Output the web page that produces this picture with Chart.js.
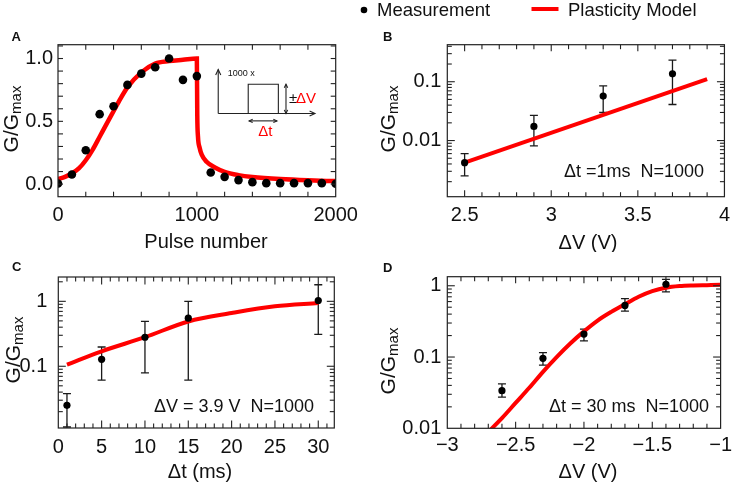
<!DOCTYPE html>
<html>
<head>
<meta charset="utf-8">
<script src="https://cdn.jsdelivr.net/npm/chart.js@4.4.1/dist/chart.umd.min.js"></script>
<style>
  html, body { margin:0; padding:0; background:#ffffff; }
  body { width:737px; height:488px; position:relative; overflow:hidden; }
  canvas { position:absolute; }
</style>
</head>
<body>
<canvas id="panelA" width="372" height="252" style="left:0px;top:0px"></canvas>
<canvas id="panelB" width="377" height="252" style="left:360px;top:0px"></canvas>
<canvas id="panelC" width="372" height="236" style="left:0px;top:252px"></canvas>
<canvas id="panelD" width="377" height="236" style="left:360px;top:252px"></canvas>
<script>
// ---------------- DATA ----------------
const legendLabels = ['Measurement', 'Plasticity Model'];

// Panel A
const pulseNumber = [0,100,200,300,400,500,600,700,800,900,1000,1100,1200,1300,1400,1500,1600,1700,1800,1900,2000];
const measuredA   = [0.005,0.077,0.27,0.557,0.62,0.79,0.88,0.93,1.0,0.83,0.86,0.093,0.058,0.032,0.016,0.008,0.008,0.008,0.008,0.008,0.003];
const modelPulseA = [0,50,100,150,200,250,300,350,400,450,500,600,700,800,900,1000,1003,1008,1020,1035,1070,1130,1200,1300,1400,1600,1800,2000];
const modelA      = [0.04,0.058,0.085,0.125,0.19,0.275,0.377,0.48,0.58,0.68,0.77,0.89,0.96,0.98,0.99,1.0,0.55,0.38,0.29,0.235,0.178,0.133,0.098,0.072,0.057,0.04,0.03,0.024];
const xTicksA = [0,1000,2000];      const xLabelsA = ['0','1000','2000'];
const yTicksA = [0,0.5,1.0];        const yLabelsA = ['0.0','0.5','1.0'];

// Panel B
const voltageB   = [2.5,2.9,3.3,3.7];
const measuredB  = [0.0042,0.0174,0.057,0.136];
const errLowB    = [0.0025,0.0081,0.030,0.041];
const errHighB   = [0.006,0.0267,0.085,0.232];
const modelVoltageB = [2.5,3.9];
const modelB        = [0.0042,0.111];
const xTicksB = [2.5,3,3.5,4];      const xLabelsB = ['2.5','3','3.5','4'];
const yTicksB = [0.01,0.1];         const yLabelsB = ['0.01','0.1'];

// Panel C
const widthC     = [1,5,10,15,30];
const measuredC  = [0.025,0.128,0.28,0.55,1.03];
const errLowC    = [0.0116,0.061,0.079,0.061,0.31];
const errHighC   = [0.038,0.198,0.49,1.0,1.8];
const modelWidthC = [1,5,10,15,20,25,30];
const modelC      = [0.106,0.17,0.28,0.49,0.66,0.84,0.94];
const xTicksC = [0,5,10,15,20,25,30]; const xLabelsC = ['0','5','10','15','20','25','30'];
const yTicksC = [0.1,1];              const yLabelsC = ['0.1','1'];

// Panel D
const voltageD   = [-2.6,-2.3,-2.0,-1.7,-1.4];
const measuredD  = [0.0337,0.096,0.21,0.53,1.05];
const errLowD    = [0.0273,0.077,0.169,0.44,0.82];
const errHighD   = [0.042,0.115,0.247,0.66,1.23];
const modelVoltageD = [-2.7,-2.6,-2.5,-2.4,-2.3,-2.2,-2.1,-2.0,-1.9,-1.8,-1.7,-1.6,-1.5,-1.4,-1.3,-1.2,-1.1,-1.0];
const modelD        = [0.0089,0.0139,0.0227,0.037,0.062,0.1,0.155,0.229,0.325,0.43,0.55,0.70,0.84,0.94,0.99,1.01,1.02,1.03];
const xTicksD = [-3,-2.5,-2,-1.5,-1]; const xLabelsD = ['\u22123','\u22122.5','\u22122','\u22121.5','\u22121'];
const yTicksD = [0.01,0.1,1];         const yLabelsD = ['0.01','0.1','1'];

// ---------------- RENDERING ----------------
const FONT = '"Liberation Sans", Arial, Helvetica, sans-serif';
Chart.defaults.font.family = FONT;
Chart.defaults.color = '#111';

function linMarks(min, max, step, majorEvery, lenMinor, lenMajor) {
  const out = [];
  const n0 = Math.ceil(min / step - 1e-9), n1 = Math.floor(max / step + 1e-9);
  for (let n = n0; n <= n1; n++) {
    const v = n * step;
    const major = Math.abs(v / majorEvery - Math.round(v / majorEvery)) < 1e-6;
    out.push({ v, len: major ? lenMajor : lenMinor });
  }
  return out;
}
function logMarks(min, max, lenMinor, lenMajor) {
  const out = [];
  for (let e = -4; e <= 1; e++) for (let m = 1; m <= 9; m++) {
    const v = m * Math.pow(10, e);
    if (v >= min * 0.999 && v <= max * 1.001) out.push({ v, len: m === 1 ? lenMajor : lenMinor });
  }
  return out;
}

const SPECS = {};

function line(ctx, x1, y1, x2, y2) { ctx.beginPath(); ctx.moveTo(x1, y1); ctx.lineTo(x2, y2); ctx.stroke(); }
function head(ctx, x, y, ang, size) {
  ctx.beginPath();
  ctx.moveTo(x + size * Math.cos(ang + 2.7), y + size * Math.sin(ang + 2.7));
  ctx.lineTo(x, y);
  ctx.lineTo(x + size * Math.cos(ang - 2.7), y + size * Math.sin(ang - 2.7));
  ctx.stroke();
}

const decoPlugin = {
  id: 'deco',
  beforeDatasetsDraw(chart) {
    const s = SPECS[chart.canvas.id]; if (!s) return;
    const ctx = chart.ctx, xs = chart.scales.x, ys = chart.scales.y;
    const ds = chart.data.datasets[0];
    if (!s.errLow) return;
    ctx.save();
    ctx.strokeStyle = '#1a1a1a'; ctx.lineWidth = 1.3;
    ds.data.forEach((p, i) => {
      const x = xs.getPixelForValue(p.x);
      const y1 = ys.getPixelForValue(s.errLow[i]), y2 = ys.getPixelForValue(s.errHigh[i]);
      ctx.beginPath();
      ctx.moveTo(x, y1); ctx.lineTo(x, y2);
      ctx.moveTo(x - 4, y1); ctx.lineTo(x + 4, y1);
      ctx.moveTo(x - 4, y2); ctx.lineTo(x + 4, y2);
      ctx.stroke();
    });
    ctx.restore();
  },
  afterDraw(chart) {
    const s = SPECS[chart.canvas.id]; if (!s) return;
    const ctx = chart.ctx, a = chart.chartArea, xs = chart.scales.x, ys = chart.scales.y;
    const ox = s.offX, oy = s.offY;
    ctx.save();
    // frame
    ctx.strokeStyle = '#222'; ctx.lineWidth = 1.2;
    ctx.strokeRect(a.left, a.top, a.right - a.left, a.bottom - a.top);
    // inward ticks on all sides
    ctx.lineWidth = 1.1;
    s.xMarks.forEach(m => {
      const px = xs.getPixelForValue(m.v);
      if (px < a.left + 0.5 || px > a.right - 0.5) return;
      line(ctx, px, a.bottom, px, a.bottom - m.len);
      line(ctx, px, a.top, px, a.top + m.len);
    });
    s.yMarks.forEach(m => {
      const py = ys.getPixelForValue(m.v);
      if (py < a.top + 0.5 || py > a.bottom - 0.5) return;
      line(ctx, a.left, py, a.left + m.len, py);
      line(ctx, a.right, py, a.right - m.len, py);
    });
    // x title
    ctx.fillStyle = '#111';
    ctx.font = '20px ' + FONT; ctx.textAlign = 'center'; ctx.textBaseline = 'alphabetic';
    ctx.fillText(s.xTitle, s.xTitlePos[0] - ox, s.xTitlePos[1] - oy);
    // y title with subscript
    ctx.save();
    ctx.translate(s.yTitlePos[0] - ox, s.yTitlePos[1] - oy);
    ctx.rotate(-Math.PI / 2);
    ctx.font = '21px ' + FONT; const w1 = ctx.measureText('G/G').width;
    ctx.font = '15px ' + FONT; const w2 = ctx.measureText('max').width;
    const st = -(w1 + w2) / 2;
    ctx.textAlign = 'left';
    ctx.font = '21px ' + FONT; ctx.fillText('G/G', st, 0);
    ctx.font = '15px ' + FONT; ctx.fillText('max', st + w1, 3);
    ctx.restore();
    // panel letter
    ctx.font = 'bold 13px ' + FONT; ctx.textAlign = 'left';
    ctx.fillText(s.letter, s.letterPos[0] - ox, s.letterPos[1] - oy);
    // note text
    if (s.note) {
      ctx.font = '18px ' + FONT; ctx.textAlign = 'center';
      ctx.fillText(s.note, s.notePos[0] - ox, s.notePos[1] - oy);
    }
    // legend
    if (s.legend) {
      ctx.fillStyle = '#000';
      ctx.beginPath(); ctx.arc(364 - ox, 10 - oy, 3.3, 0, Math.PI * 2); ctx.fill();
      ctx.fillStyle = '#111';
      ctx.font = '18.5px ' + FONT; ctx.textAlign = 'left';
      ctx.fillText(legendLabels[0], 377 - ox, 16 - oy);
      ctx.strokeStyle = '#ff0000'; ctx.lineWidth = 4;
      line(ctx, 531.5 - ox, 9 - oy, 558.5 - ox, 9 - oy);
      ctx.fillText(legendLabels[1], 568 - ox, 16 - oy);
    }
    // inset schematic (panel A), positioned in data units
    if (s.inset) {
      const X = v => xs.getPixelForValue(v), Y = v => ys.getPixelForValue(v);
      ctx.strokeStyle = '#222'; ctx.lineWidth = 1.1;
      const x0 = X(1154), yb = Y(0.5625);
      line(ctx, x0, yb, x0, Y(0.9125)); head(ctx, x0, Y(0.9125), -Math.PI / 2, 6);
      line(ctx, x0, yb, X(1851), yb); head(ctx, X(1851), yb, 0, 6);
      ctx.beginPath();
      ctx.moveTo(X(1370), yb); ctx.lineTo(X(1370), Y(0.7955)); ctx.lineTo(X(1587), Y(0.7955)); ctx.lineTo(X(1587), yb);
      ctx.stroke();
      // delta V arrow
      const xv = X(1642);
      line(ctx, xv, Y(0.7955), xv, yb);
      head(ctx, xv, Y(0.7955), -Math.PI / 2, 4); head(ctx, xv, yb, Math.PI / 2, 4);
      // delta t arrow
      const yt = Y(0.5036);
      line(ctx, X(1376), yt, X(1577), yt);
      head(ctx, X(1376), yt, Math.PI, 4); head(ctx, X(1577), yt, 0, 4);
      ctx.fillStyle = '#111'; ctx.font = '9px ' + FONT; ctx.textAlign = 'left';
      ctx.fillText('1000 x', X(1222), Y(0.859));
      ctx.font = '15px ' + FONT;
      ctx.fillText('\u00b1', X(1664), Y(0.645));
      ctx.fillStyle = '#ff0000';
      ctx.fillText('\u0394V', X(1714), Y(0.645));
      ctx.textAlign = 'center';
      ctx.fillText('\u0394t', X(1494), Y(0.382));
    }
    ctx.restore();
  }
};
Chart.register(decoPlugin);

function makeChart(id, s) {
  const cv = document.getElementById(id);
  s.offX = parseFloat(cv.style.left); s.offY = parseFloat(cv.style.top);
  SPECS[id] = s;
  const W = cv.width, H = cv.height, ar = s.area;
  const padTop = ar.top - s.offY, yW = ar.left - s.offX, padRight = s.offX + W - ar.right, xH = s.offY + H - ar.bottom;
  return new Chart(cv, {
    type: 'scatter',
    data: {
      datasets: [
        { label: legendLabels[0], data: s.px.map((x, i) => ({ x, y: s.py[i] })),
          pointRadius: s.dotR, pointBackgroundColor: '#000', pointBorderWidth: 0, order: 0 },
        { label: legendLabels[1], data: s.mx.map((x, i) => ({ x, y: s.my[i] })),
          showLine: true, pointRadius: 0, borderColor: '#ff0000', borderWidth: s.lw,
          cubicInterpolationMode: 'monotone', order: 1 }
      ]
    },
    options: {
      responsive: false, animation: false,
      layout: { padding: { top: padTop, right: padRight, left: 0, bottom: 0 } },
      plugins: { legend: { display: false }, tooltip: { enabled: false } },
      scales: {
        x: {
          type: 'linear', min: s.xMin, max: s.xMax,
          afterFit: sc => { sc.height = xH; },
          afterBuildTicks: sc => { sc.ticks = s.xTicks.map(v => ({ value: v })); },
          ticks: { callback: (v, i) => s.xLabels[i], padding: s.xPad, autoSkip: false, maxRotation: 0, minRotation: 0,
                   font: { size: 20 }, color: '#111' },
          grid: { display: false, drawTicks: false }, border: { display: false }
        },
        y: {
          type: s.yType, min: s.yMin, max: s.yMax,
          afterFit: sc => { sc.width = yW; },
          afterBuildTicks: sc => { sc.ticks = s.yTicks.map(v => ({ value: v })); },
          ticks: { callback: (v, i) => s.yLabels[i], padding: s.yPad, autoSkip: false,
                   font: { size: 20 }, color: '#111' },
          grid: { display: false, drawTicks: false }, border: { display: false }
        }
      }
    }
  });
}

makeChart('panelA', {
  area: { left: 58, top: 44.7, right: 335.7, bottom: 196.7 },
  px: pulseNumber, py: measuredA, mx: modelPulseA, my: modelA, dotR: 4.3, lw: 4.5,
  xMin: 0, xMax: 2000, yType: 'linear', yMin: -0.1, yMax: 1.11,
  xTicks: xTicksA, xLabels: xLabelsA, yTicks: yTicksA, yLabels: yLabelsA, xPad: 7, yPad: 5,
  xMarks: linMarks(0, 2000, 200, 200, 5, 5), yMarks: linMarks(-0.1, 1.11, 0.1, 0.1, 5, 5),
  xTitle: 'Pulse number', xTitlePos: [206, 248], yTitlePos: [18, 119],
  letter: 'A', letterPos: [11.5, 41], inset: true
});
makeChart('panelB', {
  area: { left: 447.3, top: 44.7, right: 726.7, bottom: 196.7 },
  px: voltageB, py: measuredB, mx: modelVoltageB, my: modelB, dotR: 3.6, lw: 4,
  errLow: errLowB, errHigh: errHighB,
  xMin: 2.4, xMax: 4.0, yType: 'logarithmic', yMin: 0.00111, yMax: 0.426,
  xTicks: xTicksB, xLabels: xLabelsB, yTicks: yTicksB, yLabels: yLabelsB, xPad: 7, yPad: 6,
  xMarks: linMarks(2.4, 4.0, 0.1, 0.5, 4.5, 6.5), yMarks: logMarks(0.00111, 0.426, 4.5, 7.5),
  xTitle: '\u0394V (V)', xTitlePos: [588, 249], yTitlePos: [395, 119],
  letter: 'B', letterPos: [383, 40.5], legend: true,
  note: '\u0394t =1ms  N=1000', notePos: [634, 176.7]
});
makeChart('panelC', {
  area: { left: 58.3, top: 277, right: 334.3, bottom: 428 },
  px: widthC, py: measuredC, mx: modelWidthC, my: modelC, dotR: 3.6, lw: 4,
  errLow: errLowC, errHigh: errHighC,
  xMin: 0, xMax: 31.85, yType: 'logarithmic', yMin: 0.0112, yMax: 2.37,
  xTicks: xTicksC, xLabels: xLabelsC, yTicks: yTicksC, yLabels: yLabelsC, xPad: 7, yPad: 11,
  xMarks: linMarks(0, 31.85, 1, 5, 4.5, 7.5), yMarks: logMarks(0.0112, 2.37, 4.5, 7.5),
  xTitle: '\u0394t (ms)', xTitlePos: [200, 478], yTitlePos: [20, 350],
  letter: 'C', letterPos: [12, 271],
  note: '\u0394V = 3.9 V  N=1000', notePos: [234, 411.7]
});
makeChart('panelD', {
  area: { left: 447.3, top: 276.7, right: 726, bottom: 428.3 },
  px: voltageD, py: measuredD, mx: modelVoltageD, my: modelD, dotR: 3.6, lw: 4,
  errLow: errLowD, errHigh: errHighD,
  xMin: -3, xMax: -1, yType: 'logarithmic', yMin: 0.01, yMax: 1.34,
  xTicks: xTicksD, xLabels: xLabelsD, yTicks: yTicksD, yLabels: yLabelsD, xPad: 5, yPad: 6,
  xMarks: linMarks(-3, -1, 0.1, 0.5, 4.5, 6.5), yMarks: logMarks(0.01, 1.34, 4.5, 7.5),
  xTitle: '\u0394V (V)', xTitlePos: [588, 478], yTitlePos: [395, 361],
  letter: 'D', letterPos: [383, 272],
  note: '\u0394t = 30 ms  N=1000', notePos: [629, 411.7]
});
</script>
</body>
</html>
